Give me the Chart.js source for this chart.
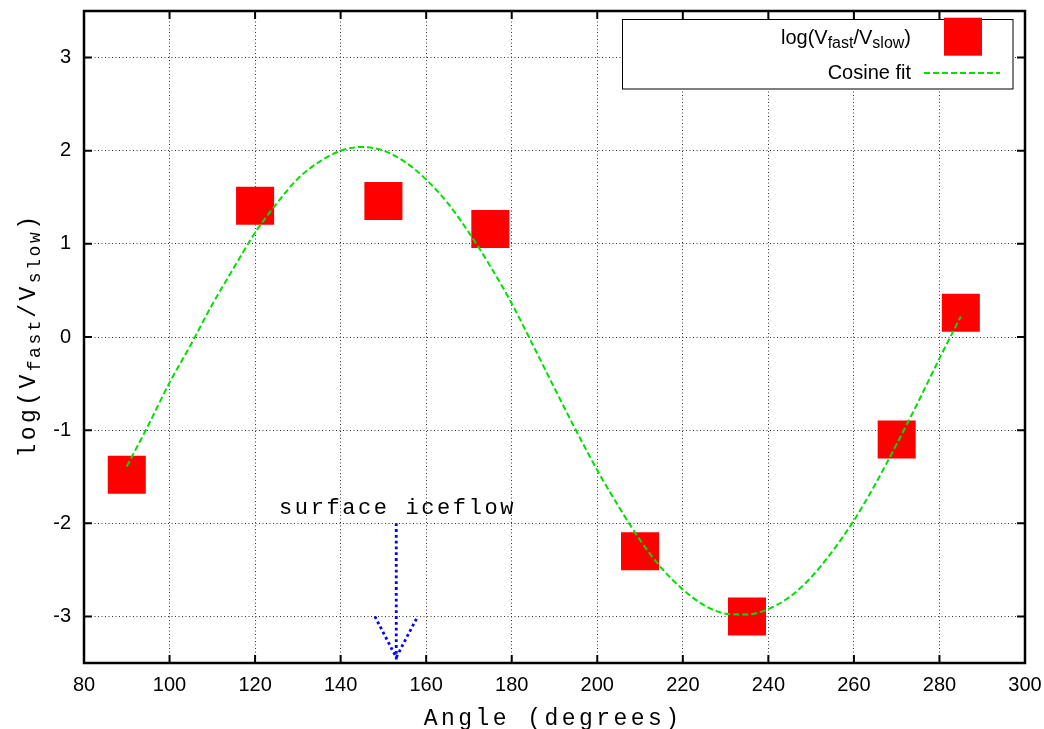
<!DOCTYPE html>
<html><head><meta charset="utf-8">
<script src="https://cdn.jsdelivr.net/npm/chart.js@4"></script>
<style>html,body{margin:0;padding:0;background:#fff}#wrap{width:1044px;height:729px}</style>
</head><body><div id="wrap"><canvas id="c" width="1044" height="729"></canvas></div>
<script>
// measured points
const angles = [90, 120, 150, 175, 210, 235, 270, 285];
const logRatio = [-1.48, 1.41, 1.46, 1.16, -2.30, -3.00, -1.10, 0.26];
// cosine fit curve, every 5 degrees
const fitAngles = [90,95,100,105,110,115,120,125,130,135,140,145,150,155,160,165,170,175,180,185,
                   190,195,200,205,210,215,220,225,230,235,240,245,250,255,260,265,270,275,280,285];
const fitValues = [-1.39,-0.95,-0.49,-0.08,0.35,0.74,1.12,1.43,1.70,1.88,2.00,2.04,2.00,1.88,1.69,1.44,1.12,0.76,0.36,-0.09,
                   -0.55,-1.00,-1.43,-1.82,-2.18,-2.48,-2.71,-2.88,-2.97,-2.98,-2.92,-2.79,-2.58,-2.30,-1.97,-1.58,-1.15,-0.70,-0.23,0.22];
// axis ticks
const xTicks = [80,100,120,140,160,180,200,220,240,260,280,300];
const yTicks = [-3,-2,-1,0,1,2,3];
// annotation arrow
const shaftX = [153, 153];
const shaftY = [-2, -3.5];
const headX = [148, 153, 158];
const headY = [-3, -3.44, -3];
const noteText = 'surface iceflow';
const noteX = 153, noteY = -1.9;
const xTitle = 'Angle (degrees)';
const legendFit = 'Cosine fit';

const MONO = '"Liberation Mono","Courier New",monospace';
const SANS = '"Liberation Sans",Arial,sans-serif';

function spacedText(ctx, text, x, y, font, spacing, align) {
  ctx.font = font;
  const n = text.length;
  const w = ctx.measureText(text).width + spacing * (n - 1);
  let sx = x;
  if (align === 'center') sx = x - w / 2;
  else if (align === 'right') sx = x - w;
  if ('letterSpacing' in ctx) {
    ctx.letterSpacing = spacing + 'px';
    ctx.textAlign = 'left';
    ctx.fillText(text, sx, y);
    ctx.letterSpacing = '0px';
  } else {
    ctx.textAlign = 'left';
    ctx.fillText(text, sx, y);
  }
  return w + spacing;
}

function noPad(s) { s.paddingLeft = 0; s.paddingRight = 0; s.paddingTop = 0; s.paddingBottom = 0; }

const overlay = {
  id: 'overlay',
  afterDraw(chart) {
    const {ctx, chartArea: a, scales: {x, y}} = chart;
    ctx.save();
    ctx.fillStyle = '#000';
    ctx.textBaseline = 'alphabetic';
    // annotation text
    spacedText(ctx, noteText, x.getPixelForValue(noteX), y.getPixelForValue(noteY), '22px ' + MONO, 2.6, 'center');
    // frame
    ctx.strokeStyle = '#000';
    ctx.lineWidth = 2.5;
    ctx.strokeRect(a.left, a.top, a.right - a.left, a.bottom - a.top);
    ctx.lineWidth = 2;
    ctx.beginPath();
    xTicks.forEach(v => {
      if (v === xTicks[0] || v === xTicks[xTicks.length - 1]) return;
      const px = x.getPixelForValue(v);
      ctx.moveTo(px, a.bottom); ctx.lineTo(px, a.bottom - 8);
      ctx.moveTo(px, a.top); ctx.lineTo(px, a.top + 8);
    });
    yTicks.forEach(v => {
      const py = y.getPixelForValue(v);
      ctx.moveTo(a.left, py); ctx.lineTo(a.left + 8, py);
      ctx.moveTo(a.right, py); ctx.lineTo(a.right - 8, py);
    });
    ctx.stroke();
    // legend box
    ctx.fillStyle = '#fff';
    ctx.fillRect(622, 19.5, 391, 69.5);
    ctx.strokeStyle = '#000';
    ctx.lineWidth = 1;
    ctx.strokeRect(622.5, 19.5, 390.5, 69.5);
    // legend entry 1 (with subscripts)
    ctx.fillStyle = '#000';
    const parts = [['log(V', 0], ['fast', 1], ['/V', 0], ['slow', 1], [')', 0]];
    let total = 0;
    parts.forEach(p => { ctx.font = (p[1] ? '16px ' : '20px ') + SANS; total += ctx.measureText(p[0]).width; });
    let lx = 911 - total;
    ctx.textAlign = 'left';
    parts.forEach(p => {
      ctx.font = (p[1] ? '16px ' : '20px ') + SANS;
      ctx.fillText(p[0], lx, p[1] ? 48 : 43.5);
      lx += ctx.measureText(p[0]).width;
    });
    ctx.fillStyle = '#ff0000';
    ctx.fillRect(944, 17.7, 38, 38);
    // legend entry 2
    ctx.fillStyle = '#000';
    ctx.font = '20px ' + SANS;
    ctx.textAlign = 'right';
    ctx.fillText(legendFit, 911, 78.5);
    ctx.strokeStyle = '#00e000';
    ctx.lineWidth = 2;
    ctx.setLineDash([6, 3]);
    ctx.beginPath(); ctx.moveTo(924, 73); ctx.lineTo(1000, 73); ctx.stroke();
    ctx.setLineDash([]);
    // x title
    ctx.fillStyle = '#000';
    spacedText(ctx, xTitle, (a.left + a.right) / 2 - 3, 725, '23px ' + MONO, 3.45, 'center');
    // y title (rotated, with subscripts)
    ctx.translate(35, (a.top + a.bottom) / 2 - 2);
    ctx.rotate(-Math.PI / 2);
    const yparts = [['log(V', 0], ['fast', 1], ['/V', 0], ['slow', 1], [')', 0]];
    const mainF = '23px ' + MONO, subF = '18px ' + MONO;
    let tw = 0;
    yparts.forEach(p => {
      ctx.font = p[1] ? subF : mainF;
      tw += ctx.measureText(p[0]).width + (p[1] ? 2.6 : 3.45) * p[0].length;
    });
    let yx = -tw / 2;
    yparts.forEach(p => {
      const sp = p[1] ? 2.6 : 3.45;
      const w = spacedText(ctx, p[0], yx, p[1] ? 5 : 0, p[1] ? subF : mainF, sp, 'left');
      yx += w;
    });
    ctx.restore();
  }
};

new Chart(document.getElementById('c'), {
  type: 'scatter',
  data: {
    datasets: [
      {
        label: 'log(Vfast/Vslow)',
        data: angles.map((a, i) => ({x: a, y: logRatio[i]})),
        pointStyle: 'rect', pointRadius: 26.9, pointHoverRadius: 26.9,
        backgroundColor: '#ff0000', borderWidth: 0, showLine: false, order: 3
      },
      {
        label: 'Cosine fit',
        data: fitAngles.map((a, i) => ({x: a, y: fitValues[i]})),
        showLine: true, pointRadius: 0, borderColor: '#00e000', borderWidth: 2,
        borderDash: [6, 3], cubicInterpolationMode: 'monotone', fill: false, order: 2
      },
      {
        label: 'arrow',
        data: shaftX.map((a, i) => ({x: a, y: shaftY[i]})),
        showLine: true, pointRadius: 0, borderColor: '#0000ff', borderWidth: 2.8,
        borderDash: [2.8, 3], fill: false, order: 1
      },
      {
        label: 'arrowhead',
        data: headX.map((a, i) => ({x: a, y: headY[i]})),
        showLine: true, pointRadius: 0, borderColor: '#0000ff', borderWidth: 2.8,
        borderDash: [2.8, 3], fill: false, order: 1
      }
    ]
  },
  options: {
    responsive: false, animation: false, devicePixelRatio: 1,
    layout: {autoPadding: false, padding: {top: 11, right: 19, left: 0, bottom: 0}},
    plugins: {legend: {display: false}, tooltip: {enabled: false}},
    scales: {
      x: {
        type: 'linear', min: 80, max: 300,
        afterBuildTicks: s => { s.ticks = xTicks.map(v => ({value: v})); },
        afterFit: s => { s.height = 66; noPad(s); },
        ticks: {font: {family: SANS, size: 20}, color: '#000', padding: 10, maxRotation: 0, autoSkip: false},
        grid: {color: '#333', lineWidth: 1, drawTicks: false},
        border: {display: false, dash: [1, 2.5]}
      },
      y: {
        type: 'linear', min: -3.5, max: 3.5,
        afterBuildTicks: s => { s.ticks = yTicks.map(v => ({value: v})); },
        afterFit: s => { s.width = 84; noPad(s); },
        ticks: {font: {family: SANS, size: 20}, color: '#000', padding: 13, autoSkip: false},
        grid: {color: '#333', lineWidth: 1, drawTicks: false},
        border: {display: false, dash: [1, 2.5]}
      }
    }
  },
  plugins: [overlay]
});
</script>
</body></html>
